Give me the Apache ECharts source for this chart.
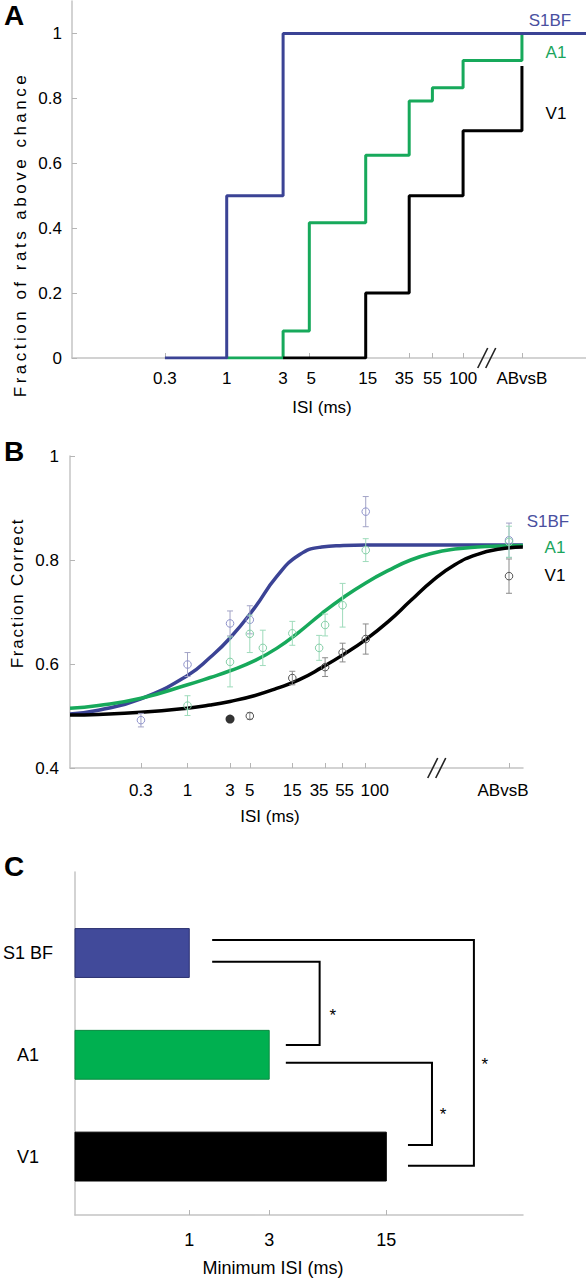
<!DOCTYPE html>
<html><head><meta charset="utf-8">
<script src="https://cdn.jsdelivr.net/npm/echarts@6/dist/echarts.min.js"></script>
<style>html,body{margin:0;padding:0;background:#fff}#c{width:586px;height:1280px}</style>
</head><body><div id="c"></div>
<script>
// ================= DATA =================
// Panel A: fraction of rats above chance (step curves)
const aTickIsi = [0.3, 1, 3, 5, 15, 35, 55, 100, 'ABvsB'];
const aYTicks = [0, 0.2, 0.4, 0.6, 0.8, 1];
const aS1bfIsi = [0.3, 1, 3];
const aS1bfFrac = [0, 0.5, 1];
const aA1Isi = [1, 3, 5, 15, 35, 55, 100, 'ABvsB'];
const aA1Frac = [0, 0.083, 0.417, 0.625, 0.792, 0.833, 0.917, 1];
const aV1Isi = [3, 15, 35, 100, 'ABvsB'];
const aV1Frac = [0, 0.2, 0.5, 0.7, 0.9];

// Panel B: fraction correct, fitted curves + mean +/- error points
const bTickIsi = [0.3, 1, 3, 5, 15, 35, 55, 100, 'ABvsB'];
const bYTicks = [0.4, 0.6, 0.8, 1];
const fitIsi  = [0.048, 0.1, 0.3, 1, 1.8, 3, 5.6, 10, 18, 32, 56, 100, 180, 320, 560, 1000, 1800, 3200, 5800];
const fitS1bf = [0.504, 0.511, 0.533, 0.578, 0.613, 0.650, 0.707, 0.768, 0.810, 0.825, 0.828, 0.829, 0.829, 0.829, 0.829, 0.829, 0.829, 0.829, 0.829];
const fitA1   = [0.515, 0.520, 0.534, 0.560, 0.574, 0.587, 0.606, 0.630, 0.662, 0.697, 0.728, 0.756, 0.780, 0.800, 0.813, 0.821, 0.825, 0.827, 0.828];
const fitV1   = [0.502, 0.503, 0.507, 0.515, 0.521, 0.528, 0.539, 0.553, 0.570, 0.593, 0.618, 0.647, 0.682, 0.722, 0.760, 0.791, 0.811, 0.821, 0.825];
const ptS1bfIsi  = [0.3, 1, 3, 5, 100, 'ABvsB'];
const ptS1bfMean = [0.492, 0.599, 0.678, 0.685, 0.893, 0.838];
const ptS1bfErr  = [0.013, 0.023, 0.024, 0.027, 0.029, 0.033];
const ptA1Isi  = [1, 3, 5, 7, 15, 30, 35, 55, 100, 'ABvsB'];
const ptA1Mean = [0.520, 0.604, 0.658, 0.631, 0.659, 0.631, 0.675, 0.713, 0.819, 0.835];
const ptA1Err  = [0.019, 0.048, 0.036, 0.034, 0.023, 0.024, 0.021, 0.042, 0.022, 0.030];
const ptV1Isi  = [5, 15, 35, 55, 100, 'ABvsB'];
const ptV1Mean = [0.500, 0.573, 0.594, 0.622, 0.648, 0.769];
const ptV1Err  = [0.006, 0.013, 0.018, 0.018, 0.029, 0.033];
const ptV1FilledIsi  = [3];
const ptV1FilledMean = [0.494];

// Panel C: minimum ISI per area
const cCategories = ['S1 BF', 'A1', 'V1'];
const cMinIsi = [1, 3, 15];
const cTickIsi = [1, 3, 15];
// significance brackets: [isi, category offset] polyline vertices
const cBracketS1V1 = [[1.37, -0.128], [50, -0.128], [50, 2.089], [20.2, 2.089]];
const cBracketS1A1 = [[1.37, 0.085], [6.0, 0.085], [6.0, 0.904], [3.77, 0.904]];
const cBracketA1V1 = [[3.77, 1.078], [28.1, 1.078], [28.1, 1.886], [20.2, 1.886]];
const cStars = [[58, 1.10], [7.2, 0.609], [32.7, 1.584]];

// ================= LAYOUT / STYLE =================
const FONT = 'Liberation Sans, Arial, sans-serif';
const BLUE = '#3b4395', GREEN = '#17a95b', BLACK = '#000000';
const AXIS = '#c4c4c4';
const A_XMIN = -1.309, A_XMAX = 3.04, A_AB = 2.498, A_BREAK = 2.2;
const B_XMIN = -1.319, B_XMAX = 3.765, B_AB = 3.608, B_BREAK = 2.797;
const C_XMIN = -0.682, C_XMAX = 1.992, C_YMIN = -0.796, C_YMAX = 2.574;
// horizontal nudges (px) of some tick labels, as in the reference
const aLabelShift = { '35': -5, '5': 2, '15': 2 };
const bLabelShift = { '35': -6, '55': 2, '100': 9, 'ABvsB': -6 };

const L = Math.log10;
function xpos(v, ab) { return v === 'ABvsB' ? ab : L(v); }
function labelOf(list, ab, shifts) {
  const keys = Object.keys(shifts || {});
  return function (val) {
    for (const v of list) {
      if (Math.abs(xpos(v, ab) - val) < 1e-6) {
        const s = String(v), k = keys.indexOf(s);
        return k >= 0 ? '{s' + k + '|' + s + '}' : s;
      }
    }
    return '';
  };
}
function richFor(shifts, size) {
  const r = {};
  Object.keys(shifts || {}).forEach((k, i) => {
    const s = shifts[k];
    r['s' + i] = { fontSize: size, fontFamily: FONT, color: '#000', padding: s < 0 ? [0, -2 * s, 0, 0] : [0, 0, 0, 2 * s] };
  });
  return r;
}
function num(v) { return String(+v.toFixed(4)); }

function xAxisCfg(grid, min, max, list, ab, margin, shifts, size) {
  const vals = list.map(v => xpos(v, ab));
  return {
    gridIndex: grid, type: 'value', min: min, max: max,
    axisLine: { show: true, onZero: false, lineStyle: { color: AXIS, width: 1.5 } },
    axisTick: { show: true, inside: true, length: 5, customValues: vals, lineStyle: { color: '#b5b5b5', width: 1 } },
    axisLabel: { customValues: vals, formatter: labelOf(list, ab, shifts), rich: richFor(shifts, size), margin: margin, color: '#000', fontSize: size, fontFamily: FONT, hideOverlap: false },
    splitLine: { show: false }
  };
}
function yAxisCfg(grid, min, max, ticks, margin, showTick) {
  return {
    gridIndex: grid, type: 'value', min: min, max: max,
    axisLine: { show: true, onZero: false, lineStyle: { color: AXIS, width: 1.5 } },
    axisTick: { show: showTick, inside: true, length: 5, customValues: ticks, lineStyle: { color: '#b5b5b5', width: 1 } },
    axisLabel: { customValues: ticks, formatter: num, margin: margin, color: '#000', fontSize: 17, fontFamily: FONT },
    splitLine: { show: false }
  };
}

function stepData(isis, vals, ab, extendTo) {
  const d = isis.map((v, i) => [xpos(v, ab), vals[i]]);
  if (extendTo !== undefined) d.push([extendTo, vals[vals.length - 1]]);
  return d;
}
function stepSeries(data, color, z) {
  return { type: 'line', xAxisIndex: 0, yAxisIndex: 0, step: 'end', data: data, showSymbol: false, symbol: 'none',
    lineStyle: { color: color, width: 3 }, z: z, silent: true };
}
function fitSeries(vals, color, z) {
  return { type: 'line', xAxisIndex: 1, yAxisIndex: 1, data: fitIsi.map((v, i) => [L(v), vals[i]]),
    smooth: 0.5, showSymbol: false, symbol: 'none', lineStyle: { color: color, width: 3.5 }, z: z, silent: true };
}
function errSeries(isis, means, errs, circleColor, barColor) {
  return {
    type: 'custom', xAxisIndex: 1, yAxisIndex: 1, z: 10, silent: true,
    data: isis.map((v, i) => [xpos(v, B_AB), means[i], errs[i]]),
    encode: { x: 0, y: 1 },
    renderItem: function (params, api) {
      const x = api.value(0), m = api.value(1), e = api.value(2);
      const c = api.coord([x, m]), t = api.coord([x, m + e]), b = api.coord([x, m - e]);
      const w = 3;
      const ls = { stroke: barColor, lineWidth: 1 };
      return { type: 'group', children: [
        { type: 'line', shape: { x1: t[0], y1: t[1], x2: b[0], y2: b[1] }, style: ls },
        { type: 'line', shape: { x1: t[0] - w, y1: t[1], x2: t[0] + w, y2: t[1] }, style: ls },
        { type: 'line', shape: { x1: b[0] - w, y1: b[1], x2: b[0] + w, y2: b[1] }, style: ls },
        { type: 'circle', shape: { cx: c[0], cy: c[1], r: 3.8 }, style: { fill: 'none', stroke: circleColor, lineWidth: 1 } }
      ] };
    }
  };
}
function breakSeries(xi, yi, pos, ymin) {
  return {
    type: 'custom', xAxisIndex: xi, yAxisIndex: yi, z: 12, silent: true, data: [[pos, ymin]],
    renderItem: function (params, api) {
      const p = api.coord([api.value(0), api.value(1)]);
      const ls = { stroke: '#222', lineWidth: 1.6 };
      return { type: 'group', children: [-4, 4].map(dx => ({
        type: 'line', shape: { x1: p[0] + dx - 5, y1: p[1] + 10, x2: p[0] + dx + 5, y2: p[1] - 10 }, style: ls })) };
    }
  };
}

const cColors = ['#414a9a', '#00b050', '#000000'];
const cBorders = ['#2b3070', '#0a8a40', '#000000'];

const option = {
  animation: false,
  backgroundColor: '#ffffff',
  grid: [
    { left: 72, top: 1, width: 514, height: 357, outerBoundsMode: 'none' },
    { left: 70, top: 456, width: 453, height: 312, outerBoundsMode: 'none' },
    { left: 75, top: 872, width: 448, height: 343, outerBoundsMode: 'none' }
  ],
  xAxis: [
    xAxisCfg(0, A_XMIN, A_XMAX, aTickIsi, A_AB, 11.5, aLabelShift, 17),
    xAxisCfg(1, B_XMIN, B_XMAX, bTickIsi, B_AB, 13.5, bLabelShift, 17),
    xAxisCfg(2, C_XMIN, C_XMAX, cTickIsi, 0, 16, {}, 18)
  ],
  yAxis: [
    yAxisCfg(0, 0, 1.1, aYTicks, 10, true),
    yAxisCfg(1, 0.4, 1, bYTicks, 11, true),
    {
      gridIndex: 2, type: 'value', min: C_YMIN, max: C_YMAX, inverse: true,
      axisLine: { show: true, onZero: false, lineStyle: { color: AXIS, width: 1.5 } },
      axisTick: { show: false },
      axisLabel: { customValues: [0, 1, 2], formatter: v => cCategories[Math.round(v)], align: 'center', margin: 47, color: '#000', fontSize: 18, fontFamily: FONT },
      splitLine: { show: false }
    }
  ],
  series: [
    // Panel A
    stepSeries(stepData(aA1Isi, aA1Frac, A_AB), GREEN, 2),
    stepSeries(stepData(aV1Isi, aV1Frac, A_AB), BLACK, 3),
    stepSeries(stepData(aS1bfIsi, aS1bfFrac, A_AB, A_XMAX), BLUE, 4),
    breakSeries(0, 0, A_BREAK, 0),
    // Panel B
    fitSeries(fitS1bf, BLUE, 2),
    fitSeries(fitA1, GREEN, 3),
    fitSeries(fitV1, BLACK, 4),
    errSeries(ptS1bfIsi, ptS1bfMean, ptS1bfErr, '#8f93cc', '#a2a3c6'),
    errSeries(ptA1Isi, ptA1Mean, ptA1Err, '#86cfa8', '#9edbbb'),
    errSeries(ptV1Isi, ptV1Mean, ptV1Err, '#555555', '#8a8a8a'),
    {
      type: 'scatter', xAxisIndex: 1, yAxisIndex: 1, z: 11, silent: true,
      data: ptV1FilledIsi.map((v, i) => [L(v), ptV1FilledMean[i]]),
      symbol: 'circle', symbolSize: 9, itemStyle: { color: '#000' }
    },
    breakSeries(1, 1, B_BREAK, 0.4),
    // Panel C bars
    {
      type: 'custom', xAxisIndex: 2, yAxisIndex: 2, silent: true,
      data: cMinIsi.map((v, i) => [L(v), i]),
      encode: { x: 0, y: 1 },
      renderItem: function (params, api) {
        const i = api.value(1);
        const s = api.coord([C_XMIN, i]), e = api.coord([api.value(0), i]);
        const h = api.size([0, 0.48])[1];
        return { type: 'rect', shape: { x: s[0], y: s[1] - h / 2, width: e[0] - s[0], height: h },
          style: { fill: cColors[params.dataIndex], stroke: cBorders[params.dataIndex], lineWidth: 1 } };
      }
    },
    // Panel C brackets
    {
      type: 'custom', xAxisIndex: 2, yAxisIndex: 2, silent: true,
      data: [cBracketS1V1, cBracketS1A1, cBracketA1V1].map((b, i) => [i]),
      renderItem: function (params, api) {
        const b = [cBracketS1V1, cBracketS1A1, cBracketA1V1][params.dataIndex];
        const pts = b.map(p => api.coord([L(p[0]), p[1]]));
        return { type: 'polyline', shape: { points: pts }, style: { stroke: '#000', lineWidth: 2, fill: 'none' } };
      }
    },
    {
      type: 'custom', xAxisIndex: 2, yAxisIndex: 2, silent: true,
      data: cStars.map(p => [L(p[0]), p[1]]),
      encode: { x: 0, y: 1 },
      renderItem: function (params, api) {
        const p = api.coord([api.value(0), api.value(1)]);
        return { type: 'text', x: p[0], y: p[1], style: { text: '*', align: 'center', verticalAlign: 'middle', fontSize: 17, fontFamily: FONT, fill: '#000' } };
      }
    }
  ],
  graphic: [
    { type: 'text', x: 4, y: 15, style: { text: 'A', align: 'left', verticalAlign: 'middle', font: 'bold 28px ' + FONT, fill: '#000' } },
    { type: 'text', x: 4, y: 451, style: { text: 'B', align: 'left', verticalAlign: 'middle', font: 'bold 28px ' + FONT, fill: '#000' } },
    { type: 'text', x: 4, y: 866, style: { text: 'C', align: 'left', verticalAlign: 'middle', font: 'bold 28px ' + FONT, fill: '#000' } },
    { type: 'text', x: 20, y: 234.5, rotation: Math.PI / 2, style: { text: 'Fraction of rats above chance', align: 'center', verticalAlign: 'middle', fontSize: 17, fontFamily: FONT, fill: '#000' } },
    { type: 'text', x: 17, y: 593, rotation: Math.PI / 2, style: { text: 'Fraction Correct', align: 'center', verticalAlign: 'middle', fontSize: 17, fontFamily: FONT, fill: '#000' } },
    { type: 'text', x: 322, y: 407, style: { text: 'ISI (ms)', align: 'center', verticalAlign: 'middle', fontSize: 17, fontFamily: FONT, fill: '#000' } },
    { type: 'text', x: 270, y: 816, style: { text: 'ISI (ms)', align: 'center', verticalAlign: 'middle', fontSize: 17, fontFamily: FONT, fill: '#000' } },
    { type: 'text', x: 273, y: 1268, style: { text: 'Minimum ISI (ms)', align: 'center', verticalAlign: 'middle', fontSize: 18, fontFamily: FONT, fill: '#000' } },
    { type: 'text', x: 550, y: 20, style: { text: 'S1BF', align: 'center', verticalAlign: 'middle', fontSize: 17, fontFamily: FONT, fill: '#4a4f9f' } },
    { type: 'text', x: 556, y: 52, style: { text: 'A1', align: 'center', verticalAlign: 'middle', fontSize: 17, fontFamily: FONT, fill: '#1aa55c' } },
    { type: 'text', x: 556, y: 113, style: { text: 'V1', align: 'center', verticalAlign: 'middle', fontSize: 17, fontFamily: FONT, fill: '#000' } },
    { type: 'text', x: 548, y: 521, style: { text: 'S1BF', align: 'center', verticalAlign: 'middle', fontSize: 17, fontFamily: FONT, fill: '#4a4f9f' } },
    { type: 'text', x: 555, y: 547, style: { text: 'A1', align: 'center', verticalAlign: 'middle', fontSize: 17, fontFamily: FONT, fill: '#1aa55c' } },
    { type: 'text', x: 555, y: 575, style: { text: 'V1', align: 'center', verticalAlign: 'middle', fontSize: 17, fontFamily: FONT, fill: '#000' } }
  ]
};

const chart = echarts.init(document.getElementById('c'), null, { renderer: 'svg', width: 586, height: 1280 });
chart.setOption(option);
function applySpacing() {
  document.querySelectorAll('#c svg text').forEach(t => {
    const s = t.textContent;
    if (s === 'Fraction of rats above chance') { t.setAttribute('letter-spacing', '3.5px'); t.style.letterSpacing = '3.5px'; }
    else if (s === 'Fraction Correct') { t.setAttribute('letter-spacing', '1.8px'); t.style.letterSpacing = '1.8px'; }
  });
}
applySpacing();
chart.on('finished', applySpacing);
setTimeout(applySpacing, 50);
</script>
</body></html>
